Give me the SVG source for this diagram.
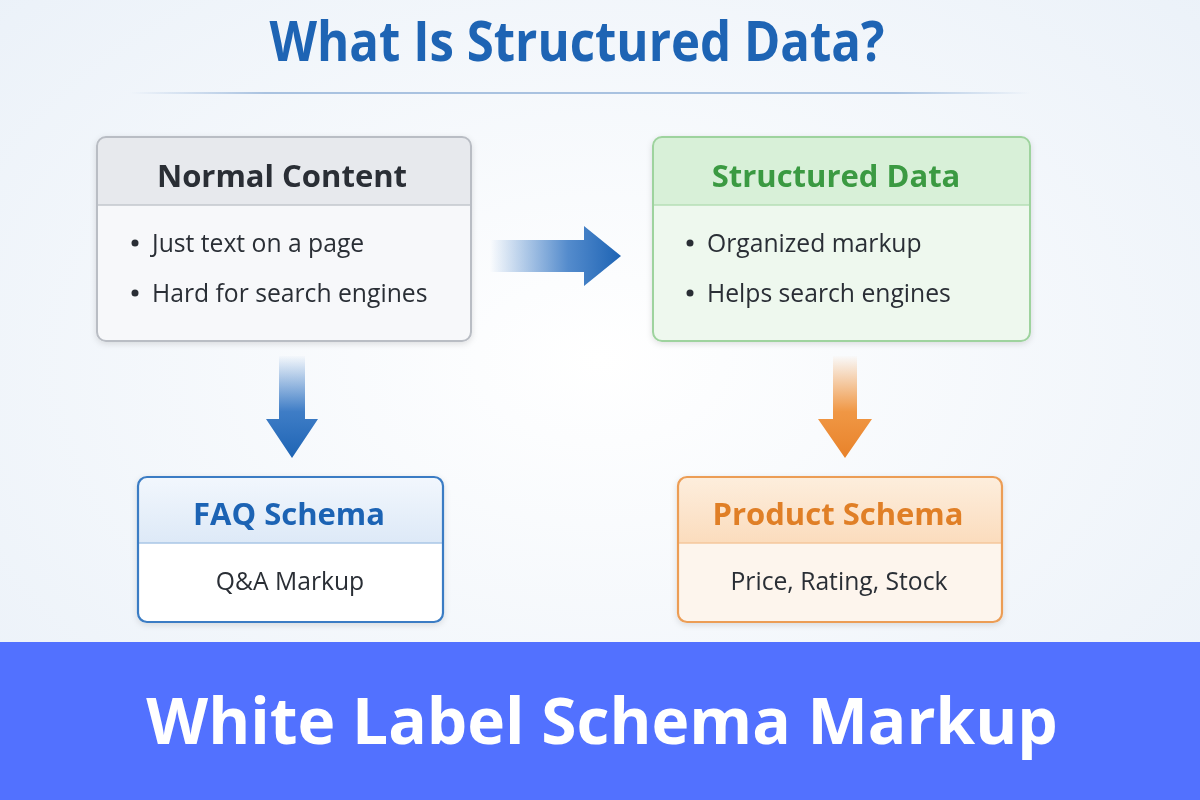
<svg xmlns="http://www.w3.org/2000/svg" width="1200" height="800" viewBox="0 0 1200 800">
<defs>
<radialGradient id="bg" cx="0.5" cy="0.45" r="0.75">
<stop offset="0" stop-color="#ffffff"/>
<stop offset="1" stop-color="#e9f0f8"/>
</radialGradient>
<linearGradient id="divider" x1="0" x2="1" y1="0" y2="0">
<stop offset="0" stop-color="#a9c2e0" stop-opacity="0"/>
<stop offset="0.15" stop-color="#a9c2e0"/>
<stop offset="0.85" stop-color="#a9c2e0"/>
<stop offset="1" stop-color="#a9c2e0" stop-opacity="0"/>
</linearGradient>
<linearGradient id="arrowR" x1="490" x2="620" y1="0" y2="0" gradientUnits="userSpaceOnUse">
<stop offset="0" stop-color="#2a6fc0" stop-opacity="0"/>
<stop offset="0.6" stop-color="#2a6fc0" stop-opacity="0.8"/>
<stop offset="1" stop-color="#1e64b4"/>
</linearGradient>
<linearGradient id="arrowDB" x1="0" x2="0" y1="355" y2="458" gradientUnits="userSpaceOnUse">
<stop offset="0" stop-color="#2a6fc0" stop-opacity="0"/>
<stop offset="0.55" stop-color="#2a6fc0" stop-opacity="0.9"/>
<stop offset="1" stop-color="#1e64b4"/>
</linearGradient>
<linearGradient id="arrowDO" x1="0" x2="0" y1="355" y2="458" gradientUnits="userSpaceOnUse">
<stop offset="0" stop-color="#ef8c30" stop-opacity="0"/>
<stop offset="0.55" stop-color="#ef8c30" stop-opacity="0.9"/>
<stop offset="1" stop-color="#e8822a"/>
</linearGradient>
<linearGradient id="hdrBlue" x1="0" x2="0" y1="0" y2="1">
<stop offset="0" stop-color="#f2f7fd"/>
<stop offset="1" stop-color="#dde9f7"/>
</linearGradient>
<linearGradient id="hdrOrange" x1="0" x2="0" y1="0" y2="1">
<stop offset="0" stop-color="#fdeedd"/>
<stop offset="1" stop-color="#fbdcbd"/>
</linearGradient>
<filter id="shadow" x="-10%" y="-10%" width="120%" height="130%">
<feDropShadow dx="0" dy="2" stdDeviation="3" flood-color="#000" flood-opacity="0.12"/>
</filter>
</defs>
<style>
.t{font-family:"Open Sans","Noto Sans","Liberation Sans",sans-serif}
.title{font-weight:700;font-size:56px;fill:#1e64b4}
.hdr{font-weight:700;font-size:31px;text-anchor:middle}
.body{font-size:24.7px;fill:#2a2f36}
.foot{font-weight:700;font-size:64px;fill:#ffffff;text-anchor:middle}
</style>
<rect width="1200" height="800" fill="url(#bg)"/>
<text class="t title" x="577" y="61" text-anchor="middle" textLength="615" lengthAdjust="spacingAndGlyphs">What Is Structured Data?</text>
<rect x="130" y="92" width="900" height="2" fill="url(#divider)"/>

<g id="connectors">
<path d="M490 240 H584 V226 L621 256 L584 286 V272 H490 Z" fill="url(#arrowR)"/>
<path d="M279 356 H305 V419 H318 L292 458 L266 419 H279 Z" fill="url(#arrowDB)"/>
<path d="M833 356 H857 V419 H872 L845 458 L818 419 H833 Z" fill="url(#arrowDO)"/>
</g>

<g id="normal-content" filter="url(#shadow)">
<rect x="97" y="137" width="374" height="204" rx="9" fill="#f7f8fa"/>
<path d="M106 137 H462 A9 9 0 0 1 471 146 V205 H97 V146 A9 9 0 0 1 106 137 Z" fill="#e7e9ed"/>
<line x1="97" y1="205" x2="471" y2="205" stroke="#c3c7cd" stroke-width="1.5"/>
<rect x="97" y="137" width="374" height="204" rx="9" fill="none" stroke="#b9bdc4" stroke-width="2"/>
<text class="t hdr" x="282" y="187" fill="#2a2f36">Normal Content</text>
<circle cx="135" cy="243" r="3.5" fill="#2a2f36"/>
<text class="t body" x="152" y="252">Just text on a page</text>
<circle cx="135" cy="293" r="3.5" fill="#2a2f36"/>
<text class="t body" x="152" y="302">Hard for search engines</text>
</g>

<g id="structured-data" filter="url(#shadow)">
<rect x="653" y="137" width="377" height="204" rx="9" fill="#eef8ee"/>
<path d="M662 137 H1021 A9 9 0 0 1 1030 146 V205 H653 V146 A9 9 0 0 1 662 137 Z" fill="#d8f0d8"/>
<line x1="653" y1="205" x2="1030" y2="205" stroke="#b6dfb6" stroke-width="1.5"/>
<rect x="653" y="137" width="377" height="204" rx="9" fill="none" stroke="#9ed39e" stroke-width="2"/>
<text class="t hdr" x="836" y="187" fill="#3a9a42">Structured Data</text>
<circle cx="690" cy="243" r="3.5" fill="#2a2f36"/>
<text class="t body" x="707" y="252">Organized markup</text>
<circle cx="690" cy="293" r="3.5" fill="#2a2f36"/>
<text class="t body" x="707" y="302">Helps search engines</text>
</g>

<g id="faq-schema" filter="url(#shadow)">
<rect x="138" y="477" width="305" height="145" rx="9" fill="#ffffff"/>
<path d="M147 477 H434 A9 9 0 0 1 443 486 V543 H138 V486 A9 9 0 0 1 147 477 Z" fill="url(#hdrBlue)"/>
<line x1="138" y1="543" x2="443" y2="543" stroke="#a9c6e6" stroke-width="1.5"/>
<rect x="138" y="477" width="305" height="145" rx="9" fill="none" stroke="#3a7cc4" stroke-width="2.2"/>
<text class="t hdr" x="289" y="525" fill="#1e64b4">FAQ Schema</text>
<text class="t body" x="290" y="590" text-anchor="middle">Q&amp;A Markup</text>
</g>

<g id="product-schema" filter="url(#shadow)">
<rect x="678" y="477" width="324" height="145" rx="9" fill="#fdf5ed"/>
<path d="M687 477 H993 A9 9 0 0 1 1002 486 V543 H678 V486 A9 9 0 0 1 687 477 Z" fill="url(#hdrOrange)"/>
<line x1="678" y1="543" x2="1002" y2="543" stroke="#f5c79c" stroke-width="1.5"/>
<rect x="678" y="477" width="324" height="145" rx="9" fill="none" stroke="#ec9d55" stroke-width="2.2"/>
<text class="t hdr" x="838" y="525" fill="#e07f28">Product Schema</text>
<text class="t body" x="839" y="590" text-anchor="middle">Price, Rating, Stock</text>
</g>

<rect x="0" y="642" width="1200" height="158" fill="#5271ff"/>
<text class="t foot" x="602" y="744">White Label Schema Markup</text>
</svg>
